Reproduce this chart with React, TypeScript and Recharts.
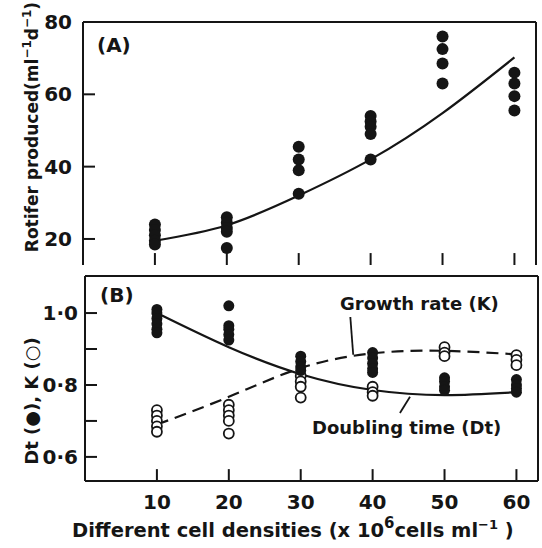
import React from 'react'
import {
  ComposedChart, Scatter, Line, XAxis, YAxis, ReferenceLine,
} from 'recharts'

// cell densities (x 10^6 cells/ml)
const densities = [10, 20, 30, 40, 50, 60]

// (A) rotifers produced, replicate dots per density
const producedDots = [
  [24, 22.5, 21, 19.5, 18.5],
  [26, 24.5, 23, 22, 17.5],
  [45.5, 42, 39, 32.5],
  [54, 52.5, 51, 49, 42],
  [76, 72.5, 68.5, 63],
  [66, 63, 59.5, 55.5],
]
const producedFit = [19.5, 23.8, 32, 42, 54.8, 70.2]

// (B) doubling time (filled) and growth rate (open)
const dtDots = [
  [1.01, 1.0, 0.985, 0.97, 0.955, 0.945],
  [1.02, 0.965, 0.955, 0.94, 0.925],
  [0.88, 0.865, 0.85, 0.84],
  [0.89, 0.875, 0.86, 0.845, 0.835],
  [0.82, 0.81, 0.795, 0.785],
  [0.815, 0.8, 0.79, 0.78],
]
const kDots = [
  [0.73, 0.715, 0.7, 0.685, 0.67],
  [0.745, 0.73, 0.715, 0.7, 0.665],
  [0.825, 0.81, 0.795, 0.765],
  [0.795, 0.78, 0.77],
  [0.905, 0.89, 0.88],
  [0.883, 0.87, 0.855],
]
const dtFit = [1.0, 0.905, 0.83, 0.786, 0.772, 0.78]
const kFit = [0.69, 0.767, 0.847, 0.888, 0.895, 0.885]

const yTicksA = [20, 40, 60, 80]
const yTicksB = [0.6, 0.7, 0.8, 0.9, 1.0]
const yLabelsB = ['0·6', '', '0·8', '', '1·0']

const INK = '#151515'
const FONT = '"DejaVu Sans", sans-serif'
const X_DOMAIN: [number, number] = [0, 63]
const A_DOMAIN: [number, number] = [12.8, 80]
const B_DOMAIN: [number, number] = [0.533, 1.103]

// plot boxes (page px), set by the chart margins and axis sizes below
const A_BOX = { left: 83, top: 22, bottom: 265 }
const B_BOX = { left: 85, top: 276, bottom: 481 }
const TICK = 12
const A_TICK = 3.3   // tick length in y units of (A)
const B_TICK = 0.033 // tick length in y units of (B)

const flatten = (groups: number[][]) =>
  groups.flatMap((vals, i) => vals.map((y) => ({ x: densities[i], y })))
const toLine = (vals: number[]) => vals.map((y, i) => ({ x: densities[i], y }))
const yPx = (v: number, dom: [number, number], box: { top: number; bottom: number }) =>
  box.top + ((dom[1] - v) / (dom[1] - dom[0])) * (box.bottom - box.top)

const FilledDot = (p: any) => <circle cx={p.cx} cy={p.cy} r={6} fill={INK} />
const FilledDotB = (p: any) => <circle cx={p.cx} cy={p.cy} r={5.5} fill={INK} />
const OpenDot = (p: any) => (
  <circle cx={p.cx} cy={p.cy} r={5} fill="#fff" stroke={INK} strokeWidth={1.8} />
)

const border = { stroke: INK, strokeWidth: 2 }

const leftLabel = (labelFor: (v: number) => string, gap: number) => (p: any) => (
  <text x={p.x - gap} y={p.y} dy={7} textAnchor="end" fontSize={20} fontWeight="bold"
    fontFamily={FONT} fill={INK}>{labelFor(p.payload.value)}</text>
)
const bottomLabel = (p: any) => (
  <text x={p.x} y={p.y + 28} textAnchor="middle" fontSize={20} fontWeight="bold"
    fontFamily={FONT} fill={INK}>{p.payload.value}</text>
)
const labelB = (v: number) => yLabelsB[yTicksB.findIndex((t) => Math.abs(t - v) < 1e-6)] ?? ''

// inward tick marks on the bottom axis
const bottomTicks = (yMin: number, yLen: number) =>
  densities.map((d) => (
    <ReferenceLine key={`x${d}`} segment={[{ x: d, y: yMin }, { x: d, y: yMin + yLen }]}
      stroke={INK} strokeWidth={2} ifOverflow="visible" />
  ))

export default function App() {
  return (
    <div style={{ position: 'fixed', left: 0, top: 0, width: 542, height: 548, background: '#fff', fontFamily: FONT }}>
      <div style={{ position: 'absolute', left: 0, top: 0 }}>
        <ComposedChart width={542} height={270} margin={{ top: 22, right: 6, bottom: 5, left: 0 }}>
          <XAxis dataKey="x" type="number" domain={X_DOMAIN} allowDataOverflow ticks={densities}
            height={0} tick={false} tickLine={false} axisLine={border} />
          <YAxis dataKey="y" type="number" domain={A_DOMAIN} allowDataOverflow ticks={yTicksA}
            width={83} tickSize={0} tickMargin={0} tick={leftLabel((v) => String(v), 11)}
            tickLine={false} axisLine={border} />
          <ReferenceLine x={X_DOMAIN[1]} stroke={INK} strokeWidth={2} ifOverflow="visible" />
          <ReferenceLine y={A_DOMAIN[1]} stroke={INK} strokeWidth={2} ifOverflow="visible" />
          {bottomTicks(A_DOMAIN[0], A_TICK)}
          <Line data={toLine(producedFit)} dataKey="y" type="natural" stroke={INK} strokeWidth={2.2}
            dot={false} isAnimationActive={false} />
          <Scatter data={flatten(producedDots)} dataKey="y" shape={FilledDot} isAnimationActive={false} />
        </ComposedChart>
      </div>

      <div style={{ position: 'absolute', left: 0, top: 270 }}>
        <ComposedChart width={542} height={278} margin={{ top: 6, right: 4, bottom: 0, left: 0 }}>
          <XAxis dataKey="x" type="number" domain={X_DOMAIN} allowDataOverflow ticks={densities}
            height={67} tickSize={0} tickMargin={0} tick={bottomLabel} tickLine={false} axisLine={border} />
          <YAxis dataKey="y" type="number" domain={B_DOMAIN} allowDataOverflow ticks={yTicksB}
            width={85} tickSize={0} tickMargin={0} tick={leftLabel(labelB, 7)}
            tickLine={false} axisLine={border} />
          <ReferenceLine x={X_DOMAIN[1]} stroke={INK} strokeWidth={2} ifOverflow="visible" />
          <ReferenceLine y={B_DOMAIN[1]} stroke={INK} strokeWidth={2} ifOverflow="visible" />
          {bottomTicks(B_DOMAIN[0], B_TICK)}
          <Line data={toLine(kFit)} dataKey="y" type="natural" stroke={INK} strokeWidth={2.2}
            strokeDasharray="12 7" dot={false} isAnimationActive={false} />
          <Line data={toLine(dtFit)} dataKey="y" type="natural" stroke={INK} strokeWidth={2.2}
            dot={false} isAnimationActive={false} />
          <Scatter data={flatten(kDots)} dataKey="y" shape={OpenDot} isAnimationActive={false} />
          <Scatter data={flatten(dtDots)} dataKey="y" shape={FilledDotB} isAnimationActive={false} />
          <ReferenceLine segment={[{ x: 36.9, y: 0.989 }, { x: 37.3, y: 0.884 }]} stroke={INK} strokeWidth={1.8} />
          <ReferenceLine segment={[{ x: 43.8, y: 0.722 }, { x: 45.2, y: 0.767 }]} stroke={INK} strokeWidth={1.8} />
        </ComposedChart>
      </div>

      <svg width={542} height={548} style={{ position: 'absolute', left: 0, top: 0, pointerEvents: 'none' }}
        fontFamily={FONT} fontWeight="bold" fill={INK}>
        {/* inward tick marks on the left axes */}
        {yTicksA.map((v) => {
          const y = yPx(v, A_DOMAIN, A_BOX)
          return <line key={`a${v}`} x1={A_BOX.left} x2={A_BOX.left + TICK} y1={y} y2={y} stroke={INK} strokeWidth={2} />
        })}
        {yTicksB.map((v) => {
          const y = yPx(v, B_DOMAIN, B_BOX)
          return <line key={`b${v}`} x1={B_BOX.left} x2={B_BOX.left + TICK} y1={y} y2={y} stroke={INK} strokeWidth={2} />
        })}
        <text x={97} y={52} fontSize={20}>(A)</text>
        <text x={100} y={302} fontSize={20}>(B)</text>
        <text x={340} y={310} fontSize={18}>Growth rate (K)</text>
        <text x={312} y={434} fontSize={18}>Doubling time (Dt)</text>
        <text x={72} y={537} fontSize={19.5}>
          Different cell densities (x 10<tspan dy={-9} fontSize={15}>6</tspan>
          <tspan dy={9}>cells ml</tspan><tspan dy={-8} fontSize={13}>−1</tspan><tspan dy={8}> )</tspan>
        </text>
        <text x={38} y={127} fontSize={17} textAnchor="middle" transform="rotate(-90 38 127)">
          Rotifer produced(ml<tspan dy={-7} fontSize={12}>−1</tspan>
          <tspan dy={7}>d</tspan><tspan dy={-7} fontSize={12}>−1</tspan><tspan dy={7}>)</tspan>
        </text>
        <text x={38} y={401} fontSize={18} textAnchor="middle" transform="rotate(-90 38 401)">
          Dt (●), K (○)
        </text>
      </svg>
    </div>
  )
}
